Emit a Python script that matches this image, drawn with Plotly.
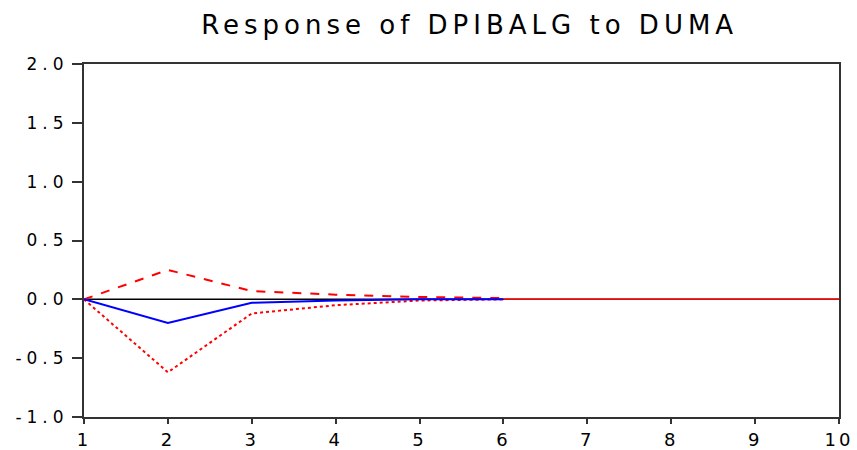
import plotly.graph_objects as go

periods = [1, 2, 3, 4, 5, 6]
response = [0.0, -0.20, -0.03, -0.01, 0.0, 0.0]
upper_band = [0.0, 0.25, 0.07, 0.04, 0.02, 0.01]
lower_band = [0.0, -0.62, -0.12, -0.05, -0.01, 0.0]
tail_periods = [6, 10]
tail_values = [0.0, 0.0]
zero_x = [1, 10]
zero_y = [0.0, 0.0]
x_ticks = [1, 2, 3, 4, 5, 6, 7, 8, 9, 10]
y_ticks = [-1.0, -0.5, 0.0, 0.5, 1.0, 1.5, 2.0]
title_text = "Response of DPIBALG to DUMA"

FONT = "DejaVu Sans, sans-serif"


def spaced(s, px):
    return f'<span style="letter-spacing:{px}px">{s}</span>'


fig = go.Figure()
fig.add_trace(go.Scatter(x=zero_x, y=zero_y, mode="lines",
                         line=dict(color="black", width=1.5), hoverinfo="skip"))
fig.add_trace(go.Scatter(x=periods, y=upper_band, mode="lines",
                         line=dict(color="#ff0000", width=2, dash="dash")))
fig.add_trace(go.Scatter(x=periods, y=lower_band, mode="lines",
                         line=dict(color="#ff0000", width=2, dash="dot")))
fig.add_trace(go.Scatter(x=periods, y=response, mode="lines",
                         line=dict(color="#0000ff", width=2)))
fig.add_trace(go.Scatter(x=tail_periods, y=tail_values, mode="lines",
                         line=dict(color="#ff0000", width=1.5)))

fig.update_layout(
    width=857, height=450,
    margin=dict(l=84, r=18, t=64, b=33, autoexpand=False),
    paper_bgcolor="white", plot_bgcolor="white",
    showlegend=False,
    title=dict(text=spaced(title_text, 5), x=0.548, xanchor="center",
               y=0.945, yanchor="middle",
               font=dict(family=FONT, size=26, color="black")),
    font=dict(family=FONT, color="black"),
)
fig.update_xaxes(range=[1, 10], tickvals=x_ticks,
                 ticktext=[spaced(str(v), 3) for v in x_ticks],
                 automargin=False,
                 showgrid=False, zeroline=False, showline=True, linecolor="#333333",
                 linewidth=2, mirror=True, ticks="outside", ticklen=5, tickwidth=2,
                 tickcolor="#333333", tickfont=dict(size=18, family=FONT))
fig.update_yaxes(range=[-1.0, 2.0], tickvals=y_ticks,
                 ticktext=[spaced(f"{v:.1f}", 5) for v in y_ticks],
                 automargin=False,
                 showgrid=False, zeroline=False, showline=True, linecolor="#333333",
                 linewidth=2, mirror=True, ticks="outside", ticklen=10, tickwidth=2,
                 tickcolor="#333333", tickfont=dict(size=17, family=FONT))

fig.write_html("out.html")
